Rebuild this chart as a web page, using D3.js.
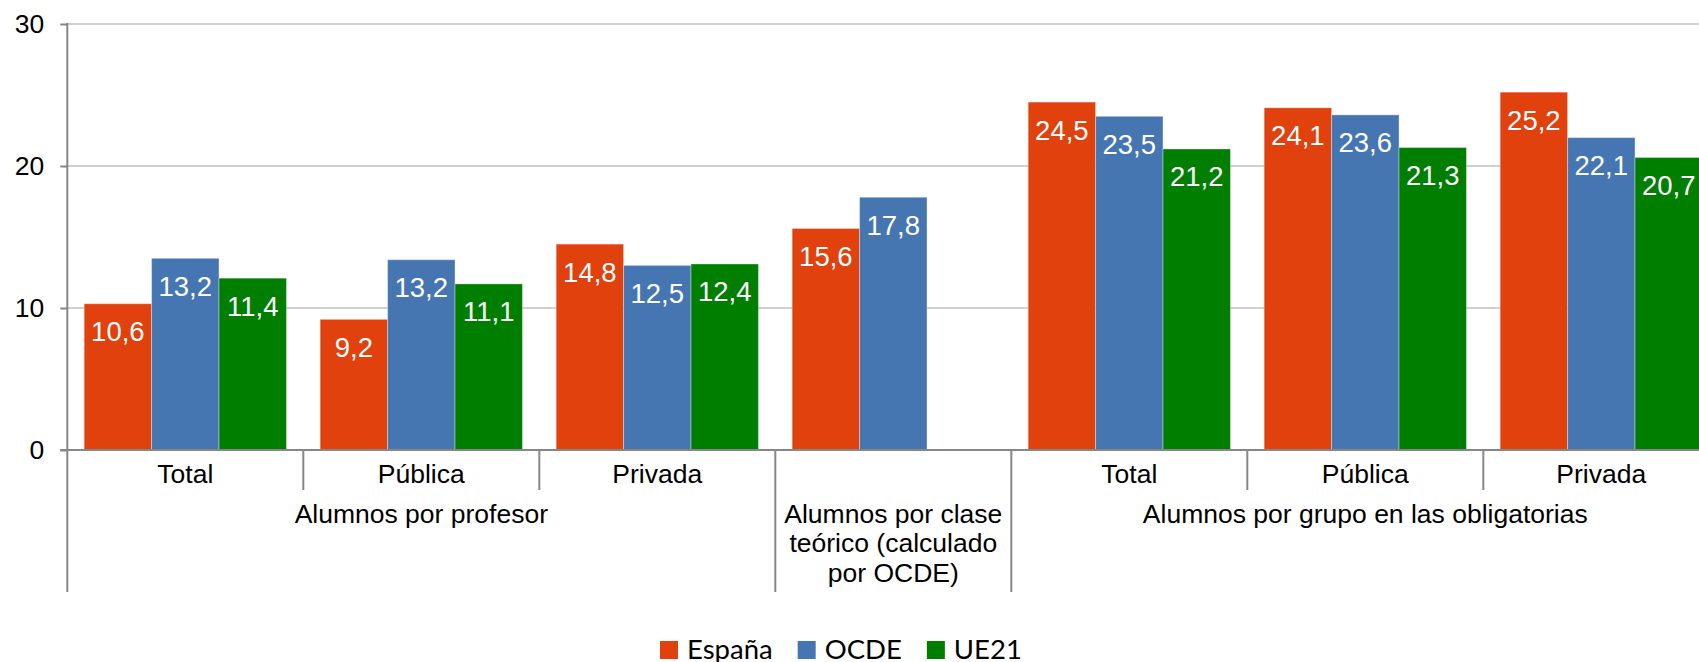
<!DOCTYPE html>
<html>
<head>
<meta charset="utf-8">
<script src="https://cdn.jsdelivr.net/npm/d3@7"></script>
<style>
  html, body { margin: 0; padding: 0; background: #fff; }
  svg { display: block; }
  text { font-family: "Liberation Sans", Arial, sans-serif; }
</style>
</head>
<body>
<svg id="chart" width="1699" height="662"></svg>
<script>
// categories (bottom level) and groups (second level)
var subLabels = ["Total", "Pública", "Privada", "", "Total", "Pública", "Privada"];
var groupLabels = [
  ["Alumnos por profesor"],
  ["Alumnos por clase", "teórico (calculado", "por OCDE)"],
  ["Alumnos por grupo en las obligatorias"]
];
var groupSpans = [3, 1, 3];

var series = ["España", "OCDE", "UE21"];
var colors = ["#E0410D", "#4676B1", "#007E00"];

// bar heights as drawn
var espana = [10.3, 9.2, 14.5, 15.6, 24.5, 24.1, 25.2];
var ocde   = [13.5, 13.4, 13.0, 17.8, 23.5, 23.6, 22.0];
var ue21   = [12.1, 11.7, 13.1, null, 21.2, 21.3, 20.6];

// data labels as printed
var espanaLabels = ["10,6", "9,2", "14,8", "15,6", "24,5", "24,1", "25,2"];
var ocdeLabels   = ["13,2", "13,2", "12,5", "17,8", "23,5", "23,6", "22,1"];
var ue21Labels   = ["11,4", "11,1", "12,4", null, "21,2", "21,3", "20,7"];

var yTicks = [0, 10, 20, 30];

var values = [espana, ocde, ue21];
var labels = [espanaLabels, ocdeLabels, ue21Labels];

var svg = d3.select("#chart");
var W = 1699;
var plotLeft = 67.3, catW = 236, plotTop = 24, base = 450, axisBottom = 592;
var axisColor = "#878787";
var axisFont = "26.5px";

var x0 = d3.scaleBand().domain(d3.range(subLabels.length))
  .range([plotLeft, plotLeft + catW * subLabels.length]).padding(0);
var x1 = d3.scaleBand().domain(d3.range(series.length))
  .range([0, x0.bandwidth()]).paddingInner(0).paddingOuter(0.25);
var y = d3.scaleLinear().domain([0, 30]).range([base, plotTop]);

// gridlines
svg.append("g").selectAll("line")
  .data(yTicks.filter(function (d) { return d > 0; }))
  .enter().append("line")
  .attr("x1", plotLeft).attr("x2", W)
  .attr("y1", function (d) { return y(d); })
  .attr("y2", function (d) { return y(d); })
  .attr("stroke", "#D0D0D0").attr("stroke-width", 2);

// bars
var rows = [];
subLabels.forEach(function (c, i) {
  series.forEach(function (s, j) {
    if (values[j][i] != null) rows.push({ i: i, j: j, v: values[j][i], label: labels[j][i] });
  });
});

svg.append("g").selectAll("rect")
  .data(rows)
  .enter().append("rect")
  .attr("x", function (d) { return x0(d.i) + x1(d.j); })
  .attr("y", function (d) { return y(d.v); })
  .attr("width", x1.bandwidth())
  .attr("height", function (d) { return base - y(d.v); })
  .attr("fill", function (d) { return colors[d.j]; })
  .attr("stroke", "rgba(255,255,255,0.35)")
  .attr("stroke-width", 1);

svg.append("g").selectAll("text")
  .data(rows)
  .enter().append("text")
  .attr("x", function (d) { return x0(d.i) + x1(d.j) + x1.bandwidth() / 2; })
  .attr("y", function (d) { return y(d.v) + 37.5; })
  .attr("text-anchor", "middle")
  .attr("fill", "#fff")
  .style("font-size", "27.5px")
  .text(function (d) { return d.label; });

// y axis
var yAxis = svg.append("g")
  .attr("transform", "translate(" + plotLeft + ",0)")
  .call(d3.axisLeft(y).tickValues(yTicks).tickSize(7).tickPadding(16).tickFormat(d3.format("d")));
yAxis.select(".domain").remove();
yAxis.selectAll(".tick line").attr("stroke", axisColor).attr("stroke-width", 2);
yAxis.selectAll(".tick text").style("font-size", axisFont).attr("fill", "#000")
  .style("font-family", "'Liberation Sans', Arial, sans-serif");

svg.append("line")
  .attr("x1", plotLeft).attr("x2", plotLeft)
  .attr("y1", plotTop - 1).attr("y2", axisBottom)
  .attr("stroke", axisColor).attr("stroke-width", 2);

// category axis baseline
svg.append("line")
  .attr("x1", plotLeft - 7).attr("x2", W)
  .attr("y1", base).attr("y2", base)
  .attr("stroke", axisColor).attr("stroke-width", 2);

// separators: long at group edges, short between sub categories
var groupEdges = [0];
groupSpans.forEach(function (n, k) { groupEdges.push(groupEdges[k] + n); });
d3.range(1, subLabels.length + 1).forEach(function (i) {
  var xe = i < subLabels.length ? x0(i) : x0(i - 1) + catW;
  var isGroup = groupEdges.indexOf(i) >= 0;
  svg.append("line")
    .attr("x1", xe).attr("x2", xe)
    .attr("y1", base).attr("y2", isGroup ? axisBottom : 490)
    .attr("stroke", axisColor).attr("stroke-width", 2);
});

svg.append("g").selectAll("text")
  .data(subLabels)
  .enter().append("text")
  .attr("x", function (d, i) { return x0(i) + catW / 2; })
  .attr("y", 483)
  .attr("text-anchor", "middle")
  .style("font-size", axisFont)
  .text(function (d) { return d; });

groupLabels.forEach(function (lines, k) {
  var a = x0(groupEdges[k]);
  var b = a + catW * groupSpans[k];
  var t = svg.append("text")
    .attr("text-anchor", "middle")
    .style("font-size", axisFont);
  lines.forEach(function (ln, m) {
    t.append("tspan").attr("x", (a + b) / 2).attr("y", 523 + m * 29.3).text(ln);
  });
});

// legend
var lg = svg.append("g").attr("transform", "translate(660,0)");
var lx = 0;
series.forEach(function (s, j) {
  lg.append("rect")
    .attr("x", lx).attr("y", 641)
    .attr("width", 18).attr("height", 18)
    .attr("fill", colors[j]);
  var tx = lg.append("text")
    .attr("x", lx + 27).attr("y", 658.5)
    .style("font-family", "Lato, 'Open Sans', sans-serif")
    .style("font-size", "27.5px")
    .attr("fill", "#000")
    .text(s);
  lx += 27 + tx.node().getComputedTextLength() + 25;
});
</script>
</body>
</html>
